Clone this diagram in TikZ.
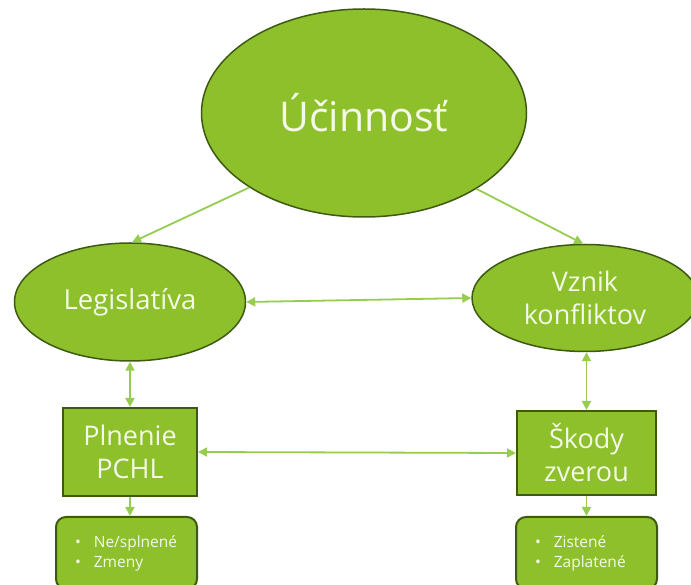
\documentclass[tikz,border=0pt]{standalone}
\usepackage{fontspec}
\setmainfont{Open Sans}
\usetikzlibrary{shapes.geometric,arrows.meta}
\definecolor{fillgreen}{HTML}{8DC02A}
\definecolor{edgegreen}{HTML}{3E5A12}
\definecolor{arrowgreen}{HTML}{96CD4E}
\definecolor{txt}{HTML}{F4F9EA}
\begin{document}
\begin{tikzpicture}[x=1pt,y=1pt,
  oval/.style={ellipse,draw=edgegreen,line width=1.5pt,fill=fillgreen,text=txt,inner sep=0pt,align=center},
  sq/.style={rectangle,draw=edgegreen,line width=2pt,fill=fillgreen,text=txt,inner sep=0pt,align=center},
  lst/.style={rectangle,rounded corners=10pt,draw=edgegreen,line width=2pt,fill=fillgreen,text=txt,inner ysep=0pt,inner xsep=19pt,align=left,
     font=\fontsize{15.5}{20}\selectfont},
  conn/.style={draw=arrowgreen,line width=1.8pt},
  tip/.style={-{Triangle[length=9pt,width=9pt]}},
  tips/.style={{Triangle[length=9pt,width=9pt]}-{Triangle[length=9pt,width=9pt]}}]
\useasboundingbox (0,0) rectangle (691,584);
\clip (0,0) rectangle (691,584);
\node[oval,minimum width=325pt,minimum height=208pt,font=\fontsize{41}{48}\selectfont] (top) at (364,471) {Účinnosť};
\node[oval,minimum width=231pt,minimum height=118pt,font=\fontsize{27.5}{33}\selectfont] (leg) at (130,282) {Legislatíva};
\node[oval,minimum width=226pt,minimum height=107pt,font=\fontsize{27}{33}\selectfont] (vzn) at (585,286) {Vznik\\konfliktov};
\node[sq,minimum width=134pt,minimum height=88pt,font=\fontsize{27}{33}\selectfont] (pln) at (130,132) {Plnenie\\PCHL};
\node[sq,minimum width=139pt,minimum height=84pt,font=\fontsize{27}{33}\selectfont] (sko) at (586.5,131) {Škody\\zverou};
\node[lst,text width=103pt,minimum height=72pt] (nes) at (126.5,31) {\textbullet\hspace{13pt}Ne/splnené\\\textbullet\hspace{13pt}Zmeny};
\node[lst,text width=103pt,minimum height=72pt] (zis) at (586.5,31) {\textbullet\hspace{13pt}Zistené\\\textbullet\hspace{13pt}Zaplatené};
\draw[conn,tip] (top.213.6) -- (leg.88);
\draw[conn,tip] (top.326) -- (vzn.92);
\draw[conn,tips] (leg.east) -- (vzn.west);
\draw[conn,tips] (leg.south) -- (pln.north);
\draw[conn,tips] (sko.north |- vzn.south) -- (sko.north);
\draw[conn,tips] (pln.east) -- (sko.west);
\draw[conn,tip] (pln.south) -- (pln.south |- nes.north);
\draw[conn,tip] (sko.south) -- (sko.south |- zis.north);
\end{tikzpicture}
\end{document}
